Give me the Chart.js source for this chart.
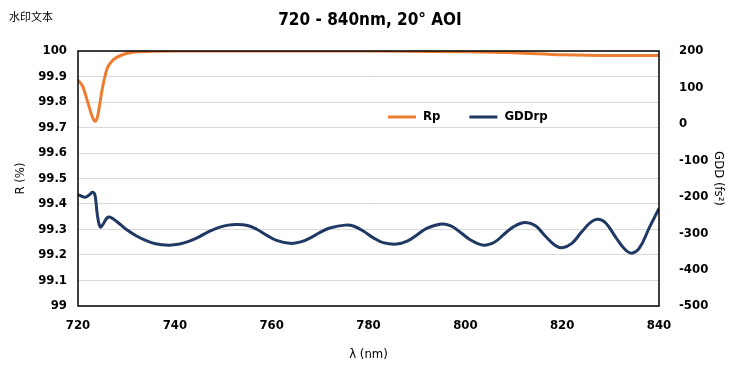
<!DOCTYPE html>
<html>
<head>
<meta charset="utf-8">
<script src="https://cdn.jsdelivr.net/npm/chart.js@4.4.1/dist/chart.umd.min.js"></script>
<style>
  html, body { margin: 0; padding: 0; background: #fff; }
  #wrap { width: 742px; height: 371px; position: relative; }
</style>
</head>
<body>
<div id="wrap"><canvas id="chartCanvas"></canvas></div>
<script>
// wavelength (nm) and values
const rpWave = [720, 721, 722, 723, 723.5, 724, 725, 726, 727, 728, 730, 733, 740, 760, 780, 800, 810, 820, 830, 840];
const rpValues = [99.886, 99.86, 99.8, 99.74, 99.725, 99.74, 99.85, 99.93, 99.96, 99.975, 99.99, 99.997, 100, 100, 100, 99.997, 99.993, 99.985, 99.982, 99.982];

const gddWave = [720, 721, 721.6, 722.5, 723, 723.5, 724, 724.6, 725.2, 726, 726.6, 728, 730, 732, 734, 736, 738.7,
  741, 743, 745, 747, 749, 751, 752.8, 755, 757, 759, 761, 763.8, 766, 768, 770, 772, 775.2, 777, 779, 781, 783,
  785.8, 788, 790, 792, 795.1, 797, 799, 801, 803.7, 806, 808, 810, 812.4, 814.5, 816.5, 818.5, 820, 822, 824,
  826, 827.5, 829, 831, 833, 834.4, 836, 838, 840];
const gddValues = [-194, -200, -201, -193, -188, -195, -250, -283, -275, -258, -256, -268, -290, -307, -320, -329, -333,
  -330, -322, -310, -296, -285, -278, -276, -279, -290, -306, -320, -328, -324, -313, -298, -286, -278, -281, -295, -313, -326,
  -330, -322, -305, -287, -275, -280, -298, -318, -333, -325, -303, -282, -271, -280, -308, -333, -340, -328, -297,
  -269, -262, -272, -310, -345, -355, -340, -285, -232];

const seriesNames = ["Rp", "GDDrp"];
const seriesColors = ["#ED7D31", "#203864"];

const fontFamily = "'DejaVu Sans Condensed', 'Liberation Sans Narrow', sans-serif";
const tickFont = { family: fontFamily, size: 13, weight: "bold" };
const titleFont = { family: fontFamily, size: 13 };

const toPoints = (xs, ys) => xs.map((x, i) => ({ x: x, y: ys[i] }));

// draws title, watermark, plot frame and the legend inside the plot
const decorPlugin = {
  id: "decor",
  afterDraw(chart) {
    const ctx = chart.ctx;
    const area = chart.chartArea;
    ctx.save();
    ctx.strokeStyle = "#000";
    ctx.lineWidth = 1.5;
    ctx.strokeRect(area.left, area.top, area.right - area.left, area.bottom - area.top);

    ctx.fillStyle = "#000";
    ctx.textBaseline = "middle";
    ctx.textAlign = "center";
    ctx.font = "bold 17px " + fontFamily;
    ctx.fillText("720 - 840nm, 20° AOI", 370, 21);

    ctx.textAlign = "left";
    ctx.font = "11px 'Noto Sans CJK SC', sans-serif";
    ctx.fillText("水印文本", 9, 17);

    // legend
    const legendY = 117;
    let x = 388;
    ctx.font = "bold 13px " + fontFamily;
    chart.data.datasets.forEach((ds) => {
      ctx.strokeStyle = ds.borderColor;
      ctx.lineWidth = 3;
      ctx.beginPath();
      ctx.moveTo(x, legendY);
      ctx.lineTo(x + 28, legendY);
      ctx.stroke();
      ctx.fillStyle = "#000";
      ctx.fillText(ds.label, x + 35, legendY);
      x += 35 + ctx.measureText(ds.label).width + 29;
    });
    ctx.restore();
  },
};

new Chart(document.getElementById("chartCanvas"), {
  type: "line",
  data: {
    datasets: [
      {
        label: seriesNames[0],
        data: toPoints(rpWave, rpValues),
        borderColor: seriesColors[0],
        borderWidth: 3,
        pointRadius: 0,
        cubicInterpolationMode: "monotone",
        yAxisID: "y",
      },
      {
        label: seriesNames[1],
        data: toPoints(gddWave, gddValues),
        borderColor: seriesColors[1],
        borderWidth: 3,
        pointRadius: 0,
        tension: 0.4,
        yAxisID: "y2",
      },
    ],
  },
  options: {
    responsive: true,
    maintainAspectRatio: false,
    animation: false,
    layout: { padding: { top: 51, left: 0, right: 0, bottom: 0 } },
    plugins: {
      legend: { display: false },
      tooltip: { enabled: false },
      title: { display: false },
    },
    scales: {
      x: {
        type: "linear",
        min: 720,
        max: 840,
        ticks: { stepSize: 20, color: "#000", font: tickFont, padding: 4 },
        grid: { display: false },
        border: { display: false },
        title: { display: true, text: "λ (nm)", color: "#000", font: titleFont, padding: { top: 4, bottom: 9 } },
        afterFit: (scale) => { scale.height = 65; },
      },
      y: {
        position: "left",
        min: 99,
        max: 100,
        ticks: {
          stepSize: 0.1,
          color: "#000",
          font: tickFont,
          padding: 11,
          callback: (v) => Math.round(v * 10) / 10,
        },
        grid: { color: "#d9d9d9", lineWidth: 1, drawTicks: false },
        border: { display: false },
        title: { display: true, text: "R (%)", color: "#000", font: titleFont, padding: { top: 13 } },
        afterFit: (scale) => { scale.width = 78; },
      },
      y2: {
        position: "right",
        min: -500,
        max: 200,
        ticks: { stepSize: 100, color: "#000", font: tickFont, padding: 12 },
        grid: { display: false },
        border: { display: false },
        title: { display: true, text: "GDD (fs²)", color: "#000", font: titleFont, padding: { top: 16 } },
        afterFit: (scale) => { scale.width = 83; },
      },
    },
  },
  plugins: [decorPlugin],
});
</script>
</body>
</html>
